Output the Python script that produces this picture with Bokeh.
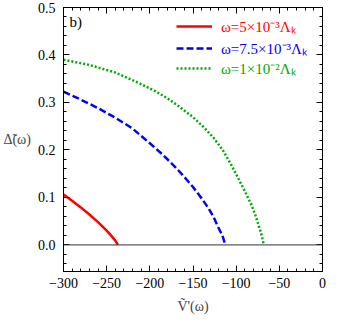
from bokeh.plotting import figure
from bokeh.models import (Range1d, FixedTicker, LinearAxis, Span, Legend, LegendItem,
                          Label)
from bokeh.embed import file_html
from bokeh.resources import INLINE

# ---- data ----
red_v = [-300, -290, -280, -270, -260, -250, -245, -240, -237]
red_d = [0.106, 0.093, 0.079, 0.064, 0.048, 0.030, 0.020, 0.009, 0.0]

blue_v = [-300, -280, -260, -240, -220, -200, -185, -170, -160, -150, -140, -132, -126, -121, -116, -112.5]
blue_d = [0.323, 0.306, 0.288, 0.268, 0.245, 0.214, 0.19, 0.163, 0.143, 0.122, 0.098, 0.077, 0.058, 0.038, 0.02, 0.0]

green_v = [-300, -270, -240, -214, -195, -179, -165, -150, -137, -125, -115, -107, -100, -93, -87, -82, -78, -75, -71, -68]
green_d = [0.39, 0.379, 0.363, 0.342, 0.325, 0.308, 0.29, 0.269, 0.247, 0.223, 0.198, 0.173, 0.149, 0.124, 0.102, 0.083, 0.064, 0.047, 0.024, 0.0]

labels = ["\u03c9=5\u00d710\u207b\u00b3\u039b\u2096",
          "\u03c9=7.5\u00d710\u207b\u00b3\u039b\u2096",
          "\u03c9=1\u00d710\u207b\u00b2\u039b\u2096"]
colors = ["#ff0000", "#0000ff", "#00aa00"]

x_ticks = [-300, -250, -200, -150, -100, -50, 0]
x_tick_labels = ["\u2212300", "\u2212250", "\u2212200", "\u2212150", "\u2212100", "\u221250", "0"]
y_ticks = [0.0, 0.1, 0.2, 0.3, 0.4, 0.5]
y_tick_labels = ["0.0", "0.1", "0.2", "0.3", "0.4", "0.5"]

FONT = "serif"

p = figure(width=327, height=316, output_backend="svg", toolbar_location=None,
           x_range=Range1d(-300, 0), y_range=Range1d(-0.056, 0.5),
           min_border_left=48, min_border_right=5, min_border_top=7, min_border_bottom=41)
p.grid.visible = False
p.outline_line_color = "black"
p.outline_line_width = 1
p.background_fill_color = "white"
p.border_fill_color = "white"

xt = FixedTicker(ticks=x_ticks, minor_ticks=list(range(-300, 1, 10)))
yt = FixedTicker(ticks=y_ticks, minor_ticks=[round(-0.04 + 0.02 * i, 2) for i in range(28)])


def style_axis(ax, show_labels):
    ax.axis_line_color = "black"
    ax.major_tick_in = 6
    ax.major_tick_out = 0
    ax.minor_tick_in = 3
    ax.minor_tick_out = 0
    ax.major_tick_line_color = "black"
    ax.minor_tick_line_color = "black"
    ax.major_label_text_font = FONT
    ax.major_label_text_font_size = "14px"
    ax.major_label_text_color = "black"
    if not show_labels:
        ax.major_label_text_alpha = 0
        ax.major_label_text_font_size = "1px"


xa = p.xaxis[0]
xa.ticker = xt
xa.major_label_overrides = dict(zip(x_ticks, x_tick_labels))
style_axis(xa, True)
xa.major_label_standoff = 6
xa.axis_label = "V\u0303'(\u03c9)"
xa.axis_label_text_font = FONT
xa.axis_label_text_font_style = "normal"
xa.axis_label_text_font_size = "14px"
xa.axis_label_standoff = 8

ya = p.yaxis[0]
ya.ticker = yt
ya.major_label_overrides = dict(zip(y_ticks, y_tick_labels))
style_axis(ya, True)
ya.major_label_standoff = 8
ya.axis_label = "\u0394\u0303(\u03c9)"
ya.axis_label_orientation = "horizontal"
ya.axis_label_text_font = FONT
ya.axis_label_text_font_style = "normal"
ya.axis_label_text_font_size = "14px"
ya.axis_label_standoff = 4

top = LinearAxis(ticker=xt)
style_axis(top, False)
p.add_layout(top, "above")
right = LinearAxis(ticker=yt)
style_axis(right, False)
p.add_layout(right, "right")
top.major_label_standoff = 0
right.major_label_standoff = 0

p.add_layout(Span(location=0, dimension="width", line_color="#333333", line_width=1))

r1 = p.line(red_v, red_d, line_color=colors[0], line_width=2.5)
r2 = p.line(blue_v, blue_d, line_color=colors[1], line_width=2.5, line_dash="7 3")
r3 = p.line(green_v, green_d, line_color=colors[2], line_width=2.5, line_dash="2 2")

rows_y = [235, 213, 193]
for r, lab, c, yy in zip([r1, r2, r3], labels, colors, rows_y):
    lg = Legend(items=[LegendItem(label=lab, renderers=[r])], location=(113, yy),
                padding=0, margin=0, border_line_alpha=0, background_fill_alpha=0,
                glyph_width=36, glyph_height=20, label_height=20, label_standoff=9,
                label_text_font=FONT, label_text_font_size="15px", label_text_color=c)
    p.add_layout(lg, "center")

p.add_layout(Label(x=-293, y=0.47, text="b)", text_font=FONT, text_font_size="15px",
                   text_color="black", text_baseline="middle"))

open("out.html", "w").write(file_html(p, INLINE))
